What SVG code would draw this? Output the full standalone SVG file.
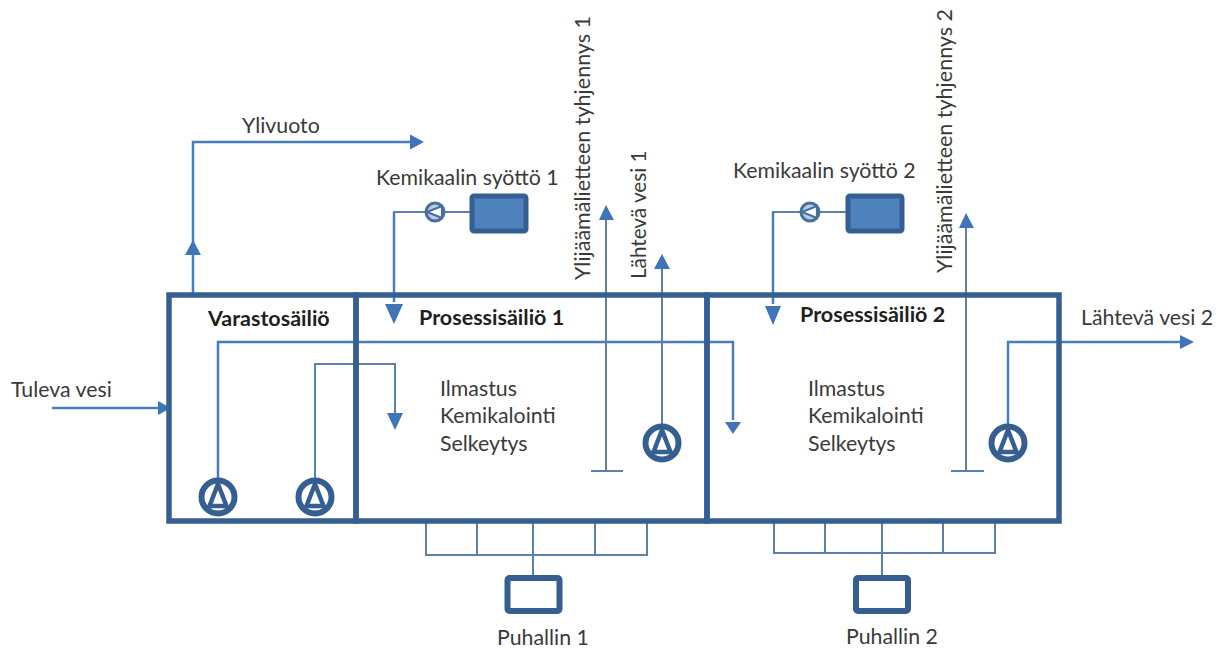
<svg xmlns="http://www.w3.org/2000/svg" width="1224" height="651" viewBox="0 0 1224 651">
<style>
text{font-family:Lato,"Open Sans","Liberation Sans",sans-serif;font-size:21.3px;fill:#3a3a3a}
.b{font-weight:700;font-size:21.5px;fill:#1f1f1f}
.r{font-size:21.5px}
.tank{fill:none;stroke:#365f91;stroke-width:5.5}
.l{fill:none;stroke:#4a7ebb;stroke-width:2.5}
.t{fill:none;stroke:#5b82ad;stroke-width:2}
.pc{fill:none;stroke:#365f91;stroke-width:6}
.pt{fill:none;stroke:#365f91;stroke-width:4.500}
.head{fill:#3f75b8}
</style>
<defs>
<g id="pump"><circle r="16.500" class="pc"/><path d="M0,-13 L8.500,9 H-8.500 Z" class="pt"/></g>
<g id="small"><circle r="9" fill="#b9cce0" stroke="#47709e" stroke-width="3"/><path d="M-8,0 L7,-6 V6 Z" fill="#fff" stroke="#47709e" stroke-width="2.200"/></g>
</defs>
<g id="connectors">
<path class="l" d="M193,294 V142 H412"/><path class="head" d="M424,142 L410,134.500 V149.500 Z"/>
<path class="head" d="M193,240 L185,255 H201 Z"/>
<path class="l" d="M52,408 H160"/><path class="head" d="M171,408 L158,401 V415 Z"/>
<path class="t" d="M471,212 H394 V302"/><path class="l" d="M394,212 V302"/><path class="head" d="M394,324 L385,304 H403 Z"/>
<path class="t" d="M847,212 H773 V304"/><path class="l" d="M773,212 V304"/><path class="head" d="M773,325 L765,306 H781 Z"/>
<path class="l" d="M218,478 V342 H733 V420"/><path class="head" d="M733,434 L725,422 H741 Z"/>
<path class="t" d="M315,478 V364 H395 V414"/><path class="head" d="M395,430 L387,413 H403 Z"/>
<path class="t" d="M606,470 V220"/><path class="head" d="M606,205 L599,220 H614 Z"/><path class="t" d="M591,471 H623"/>
<path class="t" d="M662,424 V268"/><path class="head" d="M662,254 L654,269 H670 Z"/>
<path class="t" d="M966,470 V228"/><path class="head" d="M966,213 L959,228 H974 Z"/><path class="t" d="M951,471 H984"/>
<path class="l" d="M1008,424 V342 H1181"/><path class="head" d="M1194,342 L1180,335 V349 Z"/>
<path class="t" d="M426,522 V555 H647 V522 M477,522 V555 M533,522 V578 M595,522 V555"/>
<path class="t" d="M774,522 V553 H995 V522 M825,522 V553 M882,522 V578 M943,522 V553"/>
</g>
<g id="varastosailio"><path class="tank" d="M356,295 H169 V521 H356 Z"/><text class="b" x="208" y="326">Varastosäiliö</text></g>
<g id="prosessisailio1"><path class="tank" d="M356,295 H707 V521 H356 Z"/><text class="b" x="419" y="325">Prosessisäiliö 1</text><text x="440" y="396">Ilmastus</text><text x="440" y="423">Kemikalointi</text><text x="440" y="451">Selkeytys</text></g>
<g id="prosessisailio2"><path class="tank" d="M707,295 H1059 V521 H707 Z"/><text class="b" x="800" y="322">Prosessisäiliö 2</text><text x="808" y="396">Ilmastus</text><text x="808" y="423">Kemikalointi</text><text x="808" y="451">Selkeytys</text></g>
<g id="pump1"><use href="#pump" x="218" y="497"/></g>
<g id="pump2"><use href="#pump" x="315" y="497"/></g>
<g id="pump3"><use href="#pump" x="662" y="443"/></g>
<g id="pump4"><use href="#pump" x="1008" y="443"/></g>
<g id="syotto1"><use href="#small" x="435" y="212"/><rect x="472" y="196" width="54" height="35" rx="2" fill="#4f81bd" stroke="#365f91" stroke-width="5"/><text x="376" y="185">Kemikaalin syöttö 1</text></g>
<g id="syotto2"><use href="#small" x="810" y="212"/><rect x="848" y="196" width="54" height="35" rx="2" fill="#4f81bd" stroke="#365f91" stroke-width="5"/><text x="733" y="178">Kemikaalin syöttö 2</text></g>
<g id="puhallin1"><rect x="507.500" y="578" width="52" height="33" rx="2" fill="#fff" stroke="#365f91" stroke-width="6"/><text x="497" y="645">Puhallin 1</text></g>
<g id="puhallin2"><rect x="856" y="578" width="52" height="33" rx="2" fill="#fff" stroke="#365f91" stroke-width="6"/><text x="846" y="644">Puhallin 2</text></g>
<g id="labels">
<text x="242" y="133">Ylivuoto</text>
<text x="11" y="397">Tuleva vesi</text>
<text x="1081" y="325">Lähtevä vesi 2</text>
<text class="r" transform="translate(590,280) rotate(-90)">Ylijäämälietteen tyhjennys 1</text>
<text transform="translate(646,279) rotate(-90)" style="font-size:20.700px">Lähtevä vesi 1</text>
<text class="r" transform="translate(952,273) rotate(-90)">Ylijäämälietteen tyhjennys 2</text>
</g>
</svg>
